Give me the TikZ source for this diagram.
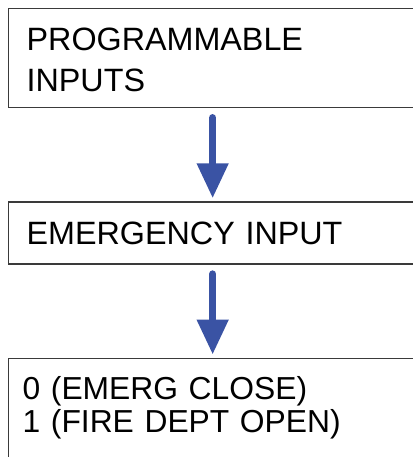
\documentclass[tikz,border=0pt]{standalone}
\usepackage{fontspec}
\setmainfont{Liberation Sans}
\usetikzlibrary{positioning,arrows.meta}
\definecolor{flowBlue}{HTML}{3A53A4}
\definecolor{frameGray}{HTML}{3A3A3A}

\begin{document}
\begin{tikzpicture}[x=1pt, y=1pt, node distance=93pt,
    box/.style={draw=frameGray, line width=1.3pt, minimum width=420pt,
                text width=384pt, inner xsep=18pt, inner ysep=0pt, align=left,
                font=\fontsize{32.3pt}{41pt}\selectfont},
    flowarrow/.style={draw=flowBlue, line width=7.5pt, line cap=round,
                -{Triangle[length=35pt,width=30pt]}, shorten <=9.5pt, shorten >=3pt}]
    \useasboundingbox (0,0) rectangle (412,-457);
    \node[box, minimum height=99pt, anchor=north west] (prog) at (8,-8)
          {\rule{0pt}{27pt}PROGRAMMABLE\\INPUTS};
    \node[box, minimum height=62pt, below=of prog] (emerg) {EMERGENCY INPUT};
    \node[box, below=of emerg, text width=392pt, inner xsep=14pt, inner ysep=18.5pt,
          font=\fontsize{31.8pt}{33pt}\selectfont] (mode)
          {0 (EMERG CLOSE)\\1 (FIRE DEPT OPEN)\rule[-70pt]{0pt}{0pt}};

    \draw[flowarrow] ([xshift=-6pt]prog.south) -- ([xshift=-6pt]emerg.north);
    \draw[flowarrow] ([xshift=-6pt]emerg.south) -- ([xshift=-6pt]mode.north);
\end{tikzpicture}
\end{document}
